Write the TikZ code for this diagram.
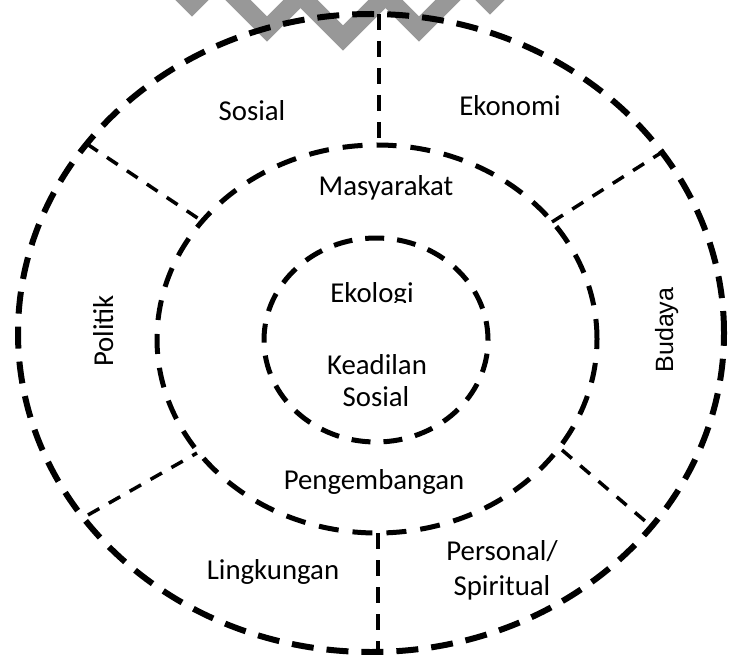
\documentclass[tikz,border=0pt]{standalone}
\usepackage{fontspec}
\setmainfont{Carlito}
\newfontfamily\arialfont{Liberation Sans}
\definecolor{markgray}{RGB}{152,152,152}
\begin{document}
\begin{tikzpicture}[x=1pt,y=-1pt,
  outerring/.style={draw=black, line width=6pt, dash pattern=on 22pt off 13pt},
  midring/.style={draw=black, line width=5pt, dash pattern=on 20pt off 14pt},
  innerring/.style={draw=black, line width=5pt, dash pattern=on 19pt off 13pt},
  spoke/.style={draw=black, line width=3.5pt, dash pattern=on 13pt off 11pt},
  axisline/.style={draw=black, line width=4pt, dash pattern=on 16pt off 11pt},
  wm/.style={draw=markgray, line width=18pt, line join=miter},
  lbl/.style={font=\fontsize{28.8}{34}\selectfont, text=black, inner sep=0pt, anchor=base}]
\useasboundingbox (0,0) rectangle (730,655);
\clip (0,0) rectangle (730,655);

% grey chevron band along the top edge
\foreach \bx/\by/\arm in {192/4/50, 267/29/50, 343/38/50, 419/29/50, 490/2/28}
  \draw[wm] (\bx-\arm,\by-\arm) -- (\bx,\by) -- (\bx+\arm,\by-\arm);

% three dashed rings
\draw[outerring] (371,333) ellipse [x radius=353pt, y radius=319pt];
\draw[midring] (377,339) ellipse [x radius=220pt, y radius=194pt];
\draw[innerring] (376,340) ellipse [x radius=112pt, y radius=102pt];

% ends of the dividers between the outer and middle rings
\coordinate (oT) at (379,14);   \coordinate (mT) at (379,145);
\coordinate (oB) at (378,652);  \coordinate (mB) at (378,533);
\coordinate (oTL) at (87,144);  \coordinate (mTL) at (199,219);
\coordinate (oTR) at (667,149); \coordinate (mTR) at (552,222);
\coordinate (oBL) at (88,515);  \coordinate (mBL) at (197,453);
\coordinate (oBR) at (652,527); \coordinate (mBR) at (562,450);

\draw[axisline] (oT) -- (mT);
\draw[axisline] (mB) -- (oB);
\draw[spoke] (oTL) -- (mTL);
\draw[spoke] (mTR) -- (oTR);
\draw[spoke] (oBL) -- (mBL);
\draw[spoke] (mBR) -- (oBR);

% outer ring sectors
\node[lbl] (sosial) at (252,121) {Sosial};
\node[lbl] (ekonomi) at (510,116) {Ekonomi};
\node[lbl, rotate=90] (politik) at (113,331) {Politik};
\node[lbl, rotate=90, font=\arialfont\fontsize{25}{30}\selectfont] (budaya) at (673,330) {Budaya};
\node[lbl] (lingkungan) at (273,579) {Lingkungan};
\node[lbl] (personal) at (502,560) {Personal/};
\node[lbl] (spiritual) at (502,595) {Spiritual};

% middle ring
\node[lbl] (masyarakat) at (386,196) {Masyarakat};
\node[lbl] (pengembangan) at (374,489) {Pengembangan};

% inner ring
\begin{scope}
  \clip (300,255) rectangle (450,302.5);
  \node[lbl] (ekologi) at (372,302) {Ekologi};
\end{scope}
\node[lbl] (keadilan) at (377,374) {Keadilan};
\node[lbl] (sosialb) at (376,406) {Sosial};
\end{tikzpicture}
\end{document}
